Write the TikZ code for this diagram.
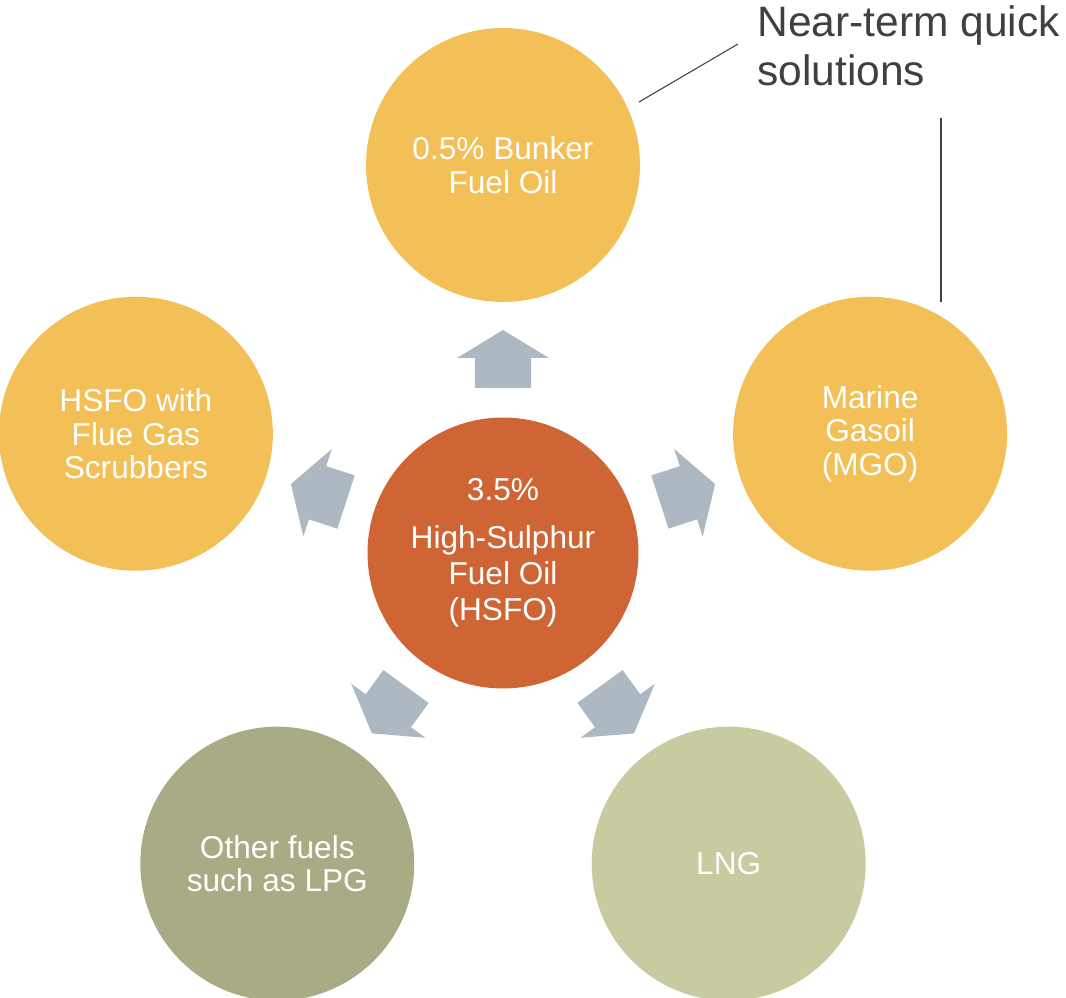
\documentclass[tikz,border=0pt]{standalone}
\usepackage{fontspec}
\setmainfont{Liberation Sans}
\usetikzlibrary{calc}
\definecolor{fuelc}{RGB}{242,192,87}
\definecolor{hsfoc}{RGB}{207,101,52}
\definecolor{lpgc}{RGB}{169,171,132}
\definecolor{lngc}{RGB}{200,203,160}
\definecolor{arrc}{RGB}{173,184,194}
\definecolor{notec}{RGB}{64,64,64}

\begin{document}
\begin{tikzpicture}[x=0.02cm, y=0.02cm,
    fuel/.style={circle, minimum size=5.48cm, inner sep=0pt, align=center,
      text=white, font=\fontsize{18}{19.2}\selectfont},
    blockarr/.style={fill=arrc},
    note/.style={font=\fontsize{24.2}{28.3}\selectfont, text=notec,
      align=left, inner sep=0pt},
    lead/.style={notec, line width=0.6pt}]
  \useasboundingbox (0,0) rectangle (1066,998);
  \node[fuel, fill=hsfoc, minimum size=5.42cm,
    font=\fontsize{18}{20.5}\selectfont] (hsfo) at (503,445)
    {3.5\%\\[7pt]High-Sulphur\\Fuel Oil\\(HSFO)};
  \node[fuel, fill=fuelc] (vlsfo) at ($(hsfo)+(90:388)$) {0.5\% Bunker\\Fuel Oil};
  \node[fuel, fill=fuelc] (mgo) at ($(hsfo)+(18:386)$) {Marine\\Gasoil\\(MGO)};
  \node[fuel, fill=fuelc] (scrub) at ($(hsfo)+(162:386)$) {HSFO with\\Flue Gas\\Scrubbers};
  \node[fuel, fill=lpgc] (lpg) at ($(hsfo)+(234:384)$) {Other fuels\\such as LPG};
  \node[fuel, fill=lngc] (lng) at ($(hsfo)+(306:384)$) {LNG};
  \foreach \a in {90,18,162,234,306}
    \fill[blockarr, shift={(hsfo.center)}, rotate=\a]
      (165,-28) -- (195,-28) -- (195,-46) -- (223,0) -- (195,46)
      -- (195,28) -- (165,28) -- cycle;
  \node[note, anchor=north west] (quick) at (757,993) {Near-term quick\\solutions};
  \coordinate (q1) at (639,896);
  \coordinate (q2) at (738,954);
  \coordinate (q3) at (941,880);
  \coordinate (q4) at (941,696);
  \draw[lead] (q1) -- (q2);
  \draw[lead] (q3) -- (q4);
\end{tikzpicture}
\end{document}
